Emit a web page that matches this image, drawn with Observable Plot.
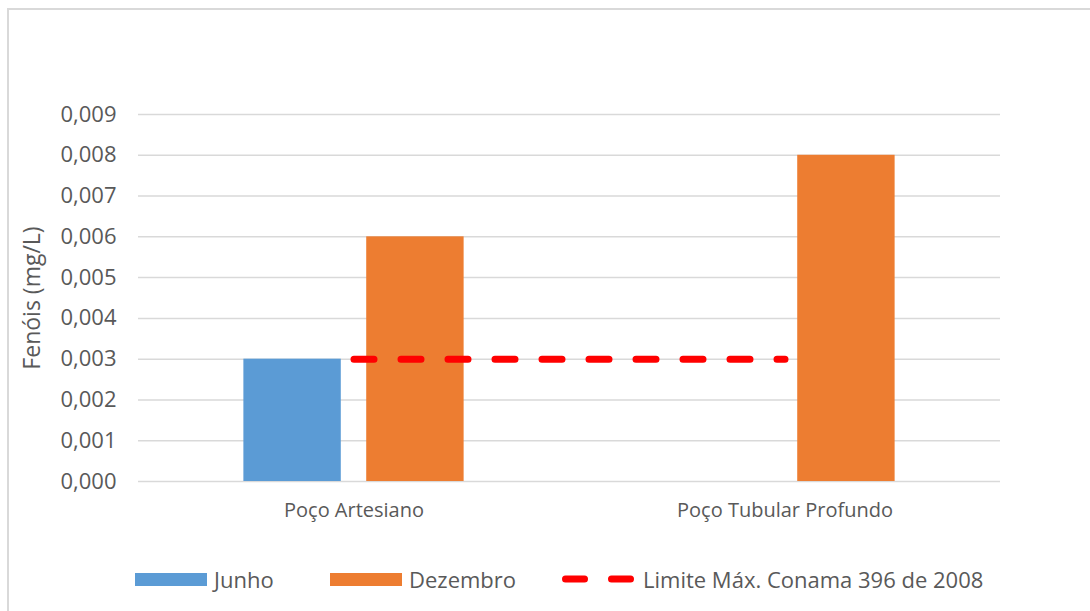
<!DOCTYPE html>
<html>
<head>
<meta charset="utf-8">
<script src="https://cdn.jsdelivr.net/npm/d3@7"></script>
<script src="https://cdn.jsdelivr.net/npm/@observablehq/plot@0.6"></script>
<style>
  body { margin: 0; background: #fff; font-family: "Open Sans", sans-serif; }
  #wrap { position: relative; width: 1090px; height: 611px; overflow: hidden; background: #fff; }
  #frame { position: absolute; left: 7px; top: 8px; right: -10px; bottom: -10px;
           border-top: 2px solid #d9d9d9; border-left: 2px solid #d9d9d9; pointer-events: none; }
  #chart { position: absolute; left: 0; top: 0; }
  #legend { position: absolute; left: 0; top: 555px; width: 1090px; height: 56px;
            color: #595959; font-size: 22px; }
  .item { position: absolute; top: 9px; height: 30px; display: flex; align-items: center; white-space: nowrap; }
  .swatch { width: 72px; height: 13px; margin-right: 7px; }
</style>
</head>
<body>
<div id="wrap">
  <div id="chart"></div>
  <div id="legend"></div>
  <div id="frame"></div>
</div>
<script>
// Fenóis measured in two wells, June and December campaigns
const categories = ["Poço Artesiano", "Poço Tubular Profundo"];
const series = ["Junho", "Dezembro"];
const junho = [0.003, 0];
const dezembro = [0.006, 0.008];
const limite = [0.003, 0.003];
const limiteLabel = "Limite Máx. Conama 396 de 2008";
const yTicks = [0, 0.001, 0.002, 0.003, 0.004, 0.005, 0.006, 0.007, 0.008, 0.009];

const seriesColors = ["#5B9BD5", "#ED7D31"];
const limitColor = "#FF0000";

// Bar geometry in category units (each category spans one unit on x)
const barWidth = 0.226;
const barGap = 0.059;

const values = [junho, dezembro];
const rows = categories.flatMap((category, i) =>
  series.map((s, j) => ({
    category, index: i, series: s, j,
    value: values[j][i],
    x1: i + 0.5 + (j - 0.5) * (barWidth + barGap) - barWidth / 2,
    x2: i + 0.5 + (j - 0.5) * (barWidth + barGap) + barWidth / 2
  }))
);
const limitRows = categories.map((category, i) => ({category, pos: i + 0.5, value: limite[i]}));

const ptBR = d3.formatLocale({decimal: ",", thousands: ".", grouping: [3], currency: ["R$", ""]});
const fmt = ptBR.format(".3f");

const chart = Plot.plot({
  width: 1090,
  height: 555,
  marginLeft: 138,
  marginRight: 90,
  marginTop: 114,
  marginBottom: 74,
  style: {fontFamily: "Open Sans, sans-serif", color: "#595959", background: "transparent"},
  x: {domain: [0, categories.length], axis: null},
  y: {domain: [0, 0.009], axis: null},
  color: {domain: series, range: seriesColors},
  marks: [
    Plot.ruleY(yTicks, {stroke: "#d9d9d9", strokeWidth: 1.5}),
    Plot.rect(rows, {x1: "x1", x2: "x2", y1: 0, y2: "value", fill: "series"}),
    Plot.lineY(limitRows, {x: "pos", y: "value", stroke: limitColor, strokeWidth: 7,
      strokeDasharray: "20,27", strokeLinecap: "round"}),
    Plot.axisY({ticks: yTicks, tickFormat: fmt, tickSize: 0, tickPadding: 22, fontSize: 22,
      label: null}),
    Plot.axisY({ticks: [], tickSize: 0, fontSize: 23,
      label: "Fenóis (mg/L)", labelAnchor: "center", labelOffset: 115, labelArrow: false}),
    Plot.axisX({ticks: categories.map((c, i) => i + 0.5), tickFormat: (d) => categories[Math.floor(d)],
      tickSize: 0, tickPadding: 21, fontSize: 20, label: null})
  ]
});
document.getElementById("chart").appendChild(chart);

// Legend below the chart
const legend = document.getElementById("legend");
const itemLeft = [135, 330, 562];
series.forEach((s, j) => {
  const item = document.createElement("div");
  item.className = "item";
  item.style.left = itemLeft[j] + "px";
  item.innerHTML = `<div class="swatch" style="background:${seriesColors[j]}"></div><span>${s}</span>`;
  legend.appendChild(item);
});
const lim = document.createElement("div");
lim.className = "item";
lim.style.left = itemLeft[2] + "px";
lim.innerHTML = `<svg width="78" height="14" style="margin-right:3px"><line x1="3.5" x2="74.5" y1="7" y2="7" stroke="${limitColor}" stroke-width="7" stroke-linecap="round" stroke-dasharray="19,27"/></svg><span>${limiteLabel}</span>`;
legend.appendChild(lim);
</script>
</body>
</html>
